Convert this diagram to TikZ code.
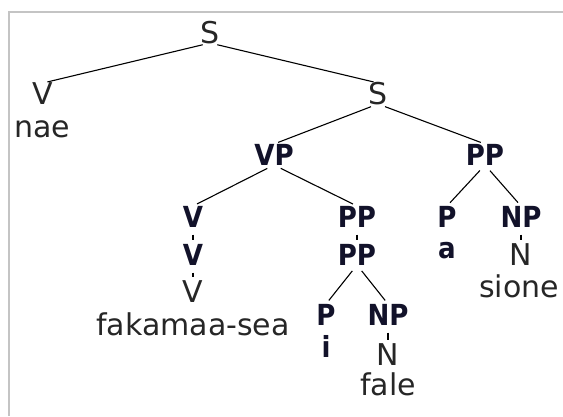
\documentclass[tikz,border=0pt]{standalone}
\usepackage{fontspec}
\setmainfont{DejaVu Sans}
\newfontfamily\condfont{DejaVu Sans Condensed}
\definecolor{wordgray}{HTML}{262626}
\definecolor{catnavy}{HTML}{12122A}
\definecolor{framegray}{HTML}{C4C4C4}
\begin{document}
\begin{tikzpicture}[x=1pt,y=-1pt,
	cat/.style={anchor=base, inner sep=0pt, outer sep=0pt, text height=21pt, text depth=0pt, text=wordgray, font=\fontsize{30}{35}\selectfont},
	bcat/.style={cat, text=catnavy, font=\fontsize{29}{34}\selectfont\condfont\bfseries},
	word/.style={anchor=base, inner sep=0pt, outer sep=0pt, text=wordgray, font=\fontsize{30}{35}\selectfont},
	bword/.style={word, text=catnavy, font=\fontsize{29}{34}\selectfont\condfont\bfseries},
	branch/.style={line width=1.1pt, shorten <=7.5pt, shorten >=4.5pt}
	]
	\useasboundingbox (0,0) rectangle (563,416);
	\draw[framegray, line width=1.5pt] (9,416) -- (9,12) -- (563,12);
	% top of the tree
	\node[cat] (s) at (210,43) {S};
	\node[cat] (vl) at (43,104) {V};
	\node[word] (nae) at (42,137) {nae};
	\node[cat] (s2) at (378,104) {S};
	\node[bcat] (vp) at (274,165) {VP};
	\node[bcat] (ppr) at (485,165) {PP};
	% under the VP
	\node[bcat] (v1) at (193,227) {V};
	\node[bcat] (v2) at (193,265) {V};
	\node[cat] (v3) at (193,302) {V};
	\node[word] (fak) at (193,335) {fakamaa-sea};
	\node[bcat] (pp1) at (357,227) {PP};
	\node[bcat] (pp2) at (357,265) {PP};
	\node[bcat] (pi) at (326,325) {P};
	\node[bword] (i) at (326,357) {i};
	\node[bcat] (npf) at (388,325) {NP};
	\node[cat] (nf) at (388,365) {N};
	\node[word] (fale) at (388,395) {fale};
	% under the right PP
	\node[bcat] (pa) at (447,227) {P};
	\node[bword] (a) at (447,258) {a};
	\node[bcat] (nps) at (521,227) {NP};
	\node[cat] (ns) at (521,265) {N};
	\node[word] (sione) at (519,297) {sione};
	\draw[branch] (s.south) -- (vl.north);
	\draw[branch] (s.south) -- (s2.north);
	\draw[branch] (s2.south) -- (vp.north);
	\draw[branch] (s2.south) -- (ppr.north);
	\draw[branch] (vp.south) -- (v1.north);
	\draw[branch] (vp.south) -- (pp1.north);
	\draw[branch] (v1.south) -- (v2.north);
	\draw[branch] (v2.south) -- (v3.north);
	\draw[branch] (pp1.south) -- (pp2.north);
	\draw[branch] (pp2.south) -- (pi.north);
	\draw[branch] (pp2.south) -- (npf.north);
	\draw[branch] (npf.south) -- (nf.north);
	\draw[branch] (ppr.south) -- (pa.north);
	\draw[branch] (ppr.south) -- (nps.north);
	\draw[branch] (nps.south) -- (ns.north);
\end{tikzpicture}
\end{document}
